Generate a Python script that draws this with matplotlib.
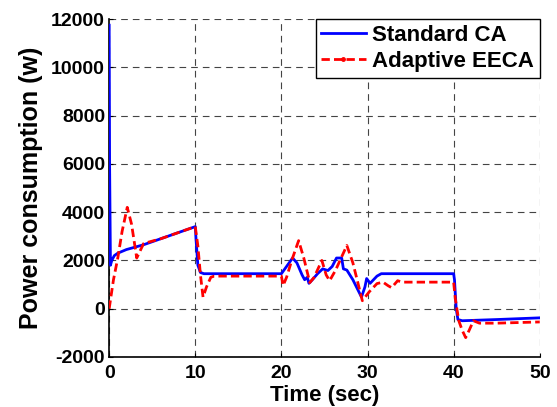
import matplotlib
matplotlib.use("Agg")
from matplotlib import pyplot as plt
from matplotlib.lines import Line2D

plt.rcParams['font.family'] = ['Liberation Sans', 'DejaVu Sans']
plt.rcParams['font.weight'] = 'bold'
plt.rcParams['axes.unicode_minus'] = False

# Standard CA
std_t = [0, 0.05, 0.15, 0.3, 0.6, 1.0, 2, 4, 6, 8, 10, 10.1, 10.3, 10.6, 11,
         20, 20.5, 21.3, 21.8, 22.4, 22.7, 23.0, 23.2, 23.6, 24.2, 24.8, 25.4,
         25.9, 26.4, 27.0, 27.2, 27.6, 28.3, 29.3, 29.7, 29.9, 30.3, 30.7, 31.1,
         31.6, 40, 40.1, 40.3, 40.5, 41, 45, 50]
std_p = [11750, 6000, 1800, 2000, 2200, 2300, 2450, 2650, 2900, 3150, 3400, 2800,
         1800, 1500, 1450, 1450, 1700, 2100, 1900, 1400, 1200, 1300, 1050, 1200,
         1450, 1650, 1580, 1750, 2100, 2100, 1650, 1600, 1200, 480, 900, 1250,
         1050, 1200, 1350, 1450, 1450, 1200, 0, -450, -500, -450, -380]

# Adaptive EECA
ad_t = [0, 0.5, 1.0, 1.5, 2.1, 2.6, 3.2, 4.0, 6, 8, 10, 10.3, 10.6, 10.9, 11.3,
        11.8, 12.2, 20, 20.2, 20.6, 21.2, 22.0, 22.6, 23.3, 23.8, 24.7, 25.2,
        25.6, 26.3, 27.6, 28.3, 29.4, 30.2, 31.1, 31.8, 32.4, 32.8, 33.5, 34,
        40, 40.2, 40.6, 41.0, 41.4, 41.8, 42.3, 43, 45, 50]
ad_p = [0, 1200, 2100, 3200, 4200, 3500, 2100, 2700, 2900, 3150, 3400, 2600,
        1400, 480, 900, 1300, 1350, 1350, 960, 1300, 2000, 2820, 2100, 1080,
        1300, 2000, 1400, 1160, 1600, 2620, 1900, 330, 700, 1040, 1100, 950,
        870, 1160, 1100, 1100, 400, -500, -900, -1200, -900, -500, -600, -600,
        -550]

xticks = [0, 10, 20, 30, 40, 50]
yticks = [-2000, 0, 2000, 4000, 6000, 8000, 10000, 12000]

fig = plt.figure(figsize=(5.57, 4.07), dpi=100)
ax = fig.add_axes([0.196, 0.123, 0.773, 0.830])

ax.plot(std_t, std_p, color='blue', lw=2.0, zorder=3)
ax.plot(ad_t, ad_p, color='red', lw=2.0, ls=(0, (3, 1.5)), zorder=4)

ax.set_xlim(0, 50)
ax.set_ylim(-2000, 12000)
ax.set_xticks(xticks)
ax.set_yticks(yticks)
ax.tick_params(labelsize=14, direction='in', length=3, width=0.8)
ax.tick_params(axis='x', pad=6)
ax.tick_params(axis='y', pad=3)
for lab in ax.get_xticklabels() + ax.get_yticklabels():
    lab.set_fontweight('bold')

ax.grid(True, color='#444444', ls=(0, (6, 4.5)), lw=0.8)
for s in ['top', 'right']:
    ax.spines[s].set_visible(False)
for s in ['left', 'bottom']:
    ax.spines[s].set_linewidth(1.2)

ax.set_xlabel('Time (sec)', fontsize=16, fontweight='bold', labelpad=2)
ax.set_ylabel('Power consumption (w)', fontsize=18, fontweight='bold', labelpad=6)

handles = [Line2D([], [], color='blue', lw=2.0),
           Line2D([], [], color='red', lw=2.0, ls=(0, (3, 1.5)), marker='.',
                  markersize=5, markevery=[1])]
leg = ax.legend(handles, ['Standard CA', 'Adaptive EECA'], loc='upper right',
                bbox_to_anchor=(1.0, 1.0), prop={'weight': 'bold', 'size': 16},
                frameon=True, fancybox=False, edgecolor='black', borderaxespad=0,
                handlelength=2.0, handletextpad=0.3, borderpad=0.25, labelspacing=0.25)
leg.get_frame().set_linewidth(1.0)
leg.get_frame().set_alpha(1.0)

fig.savefig('out.png', dpi=100)
